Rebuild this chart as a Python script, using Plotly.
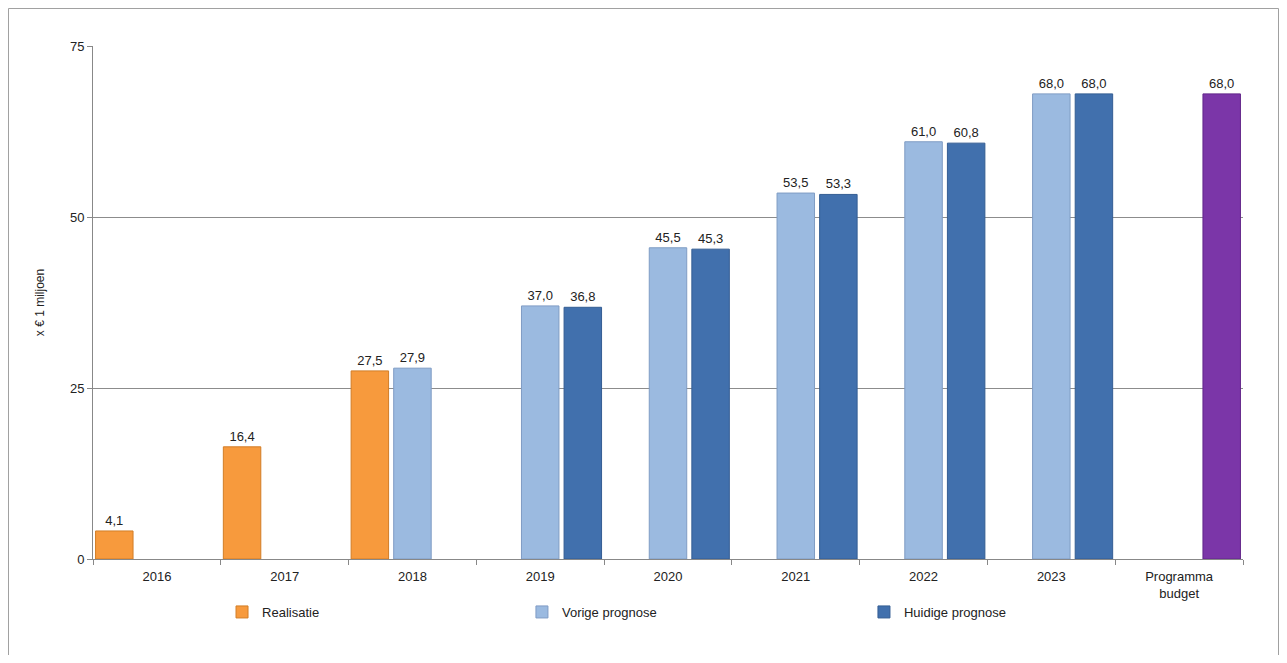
import plotly.graph_objects as go

categories = ["2016", "2017", "2018", "2019", "2020", "2021", "2022", "2023", "Programma<br>budget"]
realisatie = [4.1, 16.4, 27.5, None, None, None, None, None, None]
vorige_prognose = [None, None, 27.9, 37.0, 45.5, 53.5, 61.0, 68.0, None]
huidige_prognose = [None, None, None, 36.8, 45.3, 53.3, 60.8, 68.0, 68.0]
y_ticks = [0, 25, 50, 75]

c_orange, l_orange = "#F79A3D", "#D27D26"
c_light, l_light = "#9BBAE0", "#7F9CC4"
c_dark, l_dark = "#4170AD", "#345D93"
c_purple, l_purple = "#7B36A8", "#62268A"

huid_colors = [c_dark] * (len(categories) - 1) + [c_purple]
huid_lines = [l_dark] * (len(categories) - 1) + [l_purple]

FONT = "Liberation Sans, Arial, sans-serif"
lbl_font = dict(family=FONT, size=13, color="#222222")

fig = go.Figure()
fig.add_trace(go.Bar(name="Realisatie", x=categories, y=realisatie, legend="legend",
                     marker=dict(color=c_orange, line=dict(color=l_orange, width=1)),
                     texttemplate="%{y:.1f}", textposition="outside", textfont=lbl_font,
                     cliponaxis=False))
fig.add_trace(go.Bar(name="Vorige prognose", x=categories, y=vorige_prognose, legend="legend2",
                     marker=dict(color=c_light, line=dict(color=l_light, width=1)),
                     texttemplate="%{y:.1f}", textposition="outside", textfont=lbl_font,
                     cliponaxis=False))
fig.add_trace(go.Bar(name="Huidige prognose", x=categories, y=huidige_prognose, legend="legend3",
                     marker=dict(color=huid_colors, line=dict(color=huid_lines, width=1)),
                     texttemplate="%{y:.1f}", textposition="outside", textfont=lbl_font,
                     cliponaxis=False))

leg_common = dict(orientation="h", y=-0.1033, yanchor="middle", xanchor="left",
                  font=dict(family=FONT, size=13, color="#222222"),
                  bgcolor="rgba(0,0,0,0)")

fig.update_layout(
    width=1271, height=647,
    margin=dict(l=85, r=36, t=38, b=96),
    paper_bgcolor="white", plot_bgcolor="white",
    barmode="group", bargap=0.0, bargroupgap=0.12,
    separators=", ",
    font=dict(family=FONT, size=13, color="#222222"),
    showlegend=True,
    legend=dict(x=0.1122, **leg_common),
    legend2=dict(x=0.3730, **leg_common),
    legend3=dict(x=0.6704, **leg_common),
    xaxis=dict(type="category", showline=True, linecolor="#888888", linewidth=1,
               ticks="outside", tickson="boundaries", ticklen=5, tickcolor="#888888",
               showgrid=False, ticklabelstandoff=5,
               tickfont=dict(family=FONT, size=13, color="#222222")),
    yaxis=dict(range=[0, 75], tickvals=y_ticks, showline=True, linecolor="#888888",
               linewidth=1, ticks="outside", ticklen=5, tickcolor="#888888",
               showgrid=True, gridcolor="#8c8c8c", gridwidth=1, zeroline=False,
               tickfont=dict(family=FONT, size=13, color="#222222"),
               title=dict(text="x € 1 miljoen", font=dict(family=FONT, size=12, color="#222222"),
                          standoff=22)),
    shapes=[dict(type="rect", xref="paper", yref="paper",
                 x0=-0.07348, x1=1.03087, y0=-0.35, y1=1.0731,
                 line=dict(color="#a0a0a0", width=1), fillcolor="rgba(0,0,0,0)", layer="below")],
)

fig.write_html("out.html")
